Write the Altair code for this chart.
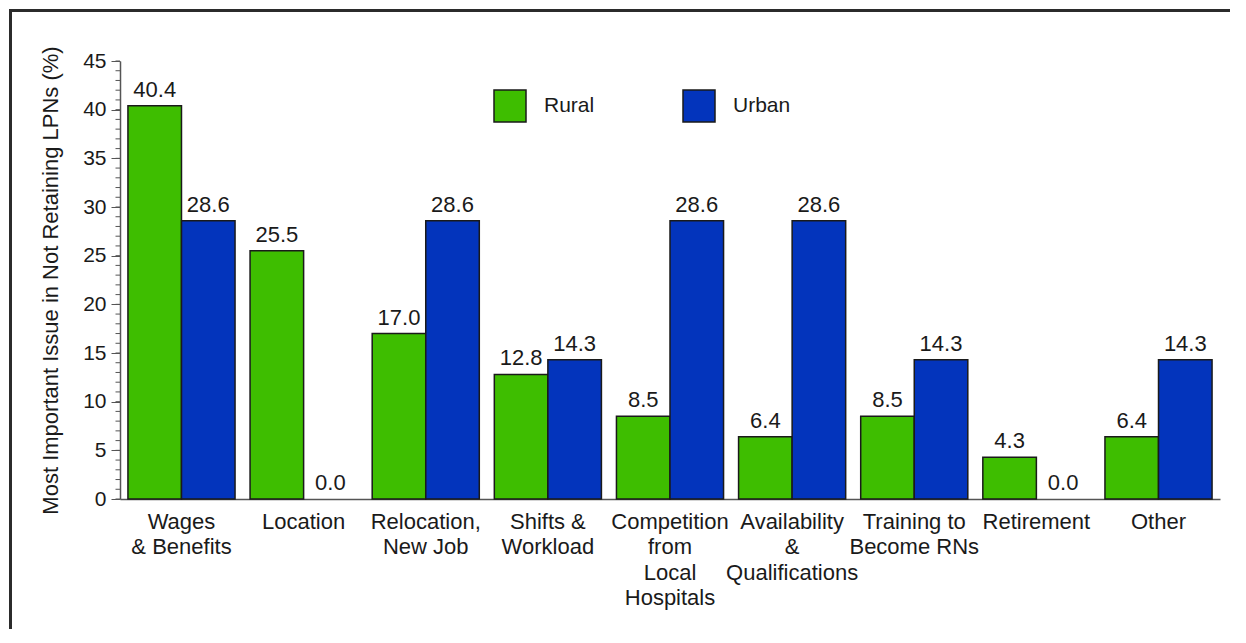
import altair as alt
import pandas as pd

categories = ["Wages\n& Benefits", "Location", "Relocation,\nNew Job", "Shifts &\nWorkload",
              "Competition\nfrom\nLocal\nHospitals", "Availability\n&\nQualifications",
              "Training to\nBecome RNs", "Retirement", "Other"]
rural = [40.4, 25.5, 17.0, 12.8, 8.5, 6.4, 8.5, 4.3, 6.4]
urban = [28.6, 0.0, 28.6, 14.3, 28.6, 28.6, 14.3, 0.0, 14.3]
series = ["Rural", "Urban"]
colors = ["#3EBE00", "#0334BC"]
major_ticks = [0, 5, 10, 15, 20, 25, 30, 35, 40, 45]
minor_ticks = list(range(0, 46))

rows = []
for c, r, u in zip(categories, rural, urban):
    rows.append({"cat": c, "grp": "Rural", "val": r})
    rows.append({"cat": c, "grp": "Urban", "val": u})
df = pd.DataFrame(rows)

FONT = "Liberation Sans"
TXT = "#1a1a1a"

x = alt.X("cat:N", sort=categories, title=None,
          scale=alt.Scale(paddingInner=0.123, paddingOuter=0.065),
          axis=alt.Axis(labelAngle=0, ticks=False, labelExpr="split(datum.label, '\\n')",
                        labelFontSize=22, labelLineHeight=25.5, labelPadding=12,
                        labelColor=TXT, domainColor="#555555", domainWidth=1.5,
                        labelFont=FONT))
y = alt.Y("val:Q", scale=alt.Scale(domain=[0, 45], nice=False),
          title="Most Important Issue in Not Retaining LPNs (%)",
          axis=alt.Axis(values=major_ticks, tickSize=9, grid=False, labelFontSize=21,
                        labelColor=TXT, labelFont=FONT, labelPadding=5,
                        domainColor="#555555", tickColor="#555555", domainWidth=1.5,
                        titleFontSize=22, titleFont=FONT, titleFontWeight="normal",
                        titleColor=TXT, titlePadding=20))
xo = alt.XOffset("grp:N", sort=series)

bars = alt.Chart(df).mark_bar(stroke="#1a1a1a", strokeWidth=1.5).encode(
    x=x, xOffset=xo, y=y,
    color=alt.Color("grp:N", sort=series,
                    scale=alt.Scale(domain=series, range=colors),
                    legend=alt.Legend(orient="none", legendX=373, legendY=28,
                                      direction="horizontal", title=None,
                                      symbolType="square", symbolSize=1024,
                                      symbolStrokeColor="#1a1a1a", symbolStrokeWidth=1.5,
                                      symbolOpacity=1, labelFontSize=21, labelFont=FONT,
                                      labelColor=TXT, labelOffset=17, columnPadding=85,
                                      padding=0)),
    strokeOpacity=alt.condition("datum.val > 0", alt.value(1), alt.value(0)),
)

labels = alt.Chart(df).mark_text(baseline="alphabetic", dy=-9, fontSize=22,
                                 font=FONT, color=TXT).encode(
    x=alt.X("cat:N", sort=categories), xOffset=xo, y=alt.Y("val:Q"),
    text=alt.Text("val:Q", format=".1f"),
)

minor = alt.Chart(pd.DataFrame({"t": minor_ticks})).mark_rule(
    color="#555555", strokeWidth=1).encode(
    y=alt.Y("t:Q"), x=alt.value(-4.5), x2=alt.value(0))

one = pd.DataFrame({"d": [0]})
frame_left = alt.Chart(one).mark_rule(color="#2b2b2b", strokeWidth=3).encode(
    x=alt.value(-109.5), y=alt.value(-52), y2=alt.value(700))
frame_top = alt.Chart(one).mark_rule(color="#2b2b2b", strokeWidth=3).encode(
    y=alt.value(-50.5), x=alt.value(-111), x2=alt.value(1200))

chart = alt.layer(minor, bars, labels, frame_left, frame_top).properties(
    width=1100, height=438,
    autosize=alt.AutoSizeParams(type="none"),
    padding={"left": 112, "top": 53, "right": 10, "bottom": 130},
    background="white",
).configure_view(stroke=None).configure_text(font=FONT)

chart.save("out.html", embed_options={"renderer": "svg", "actions": False})
